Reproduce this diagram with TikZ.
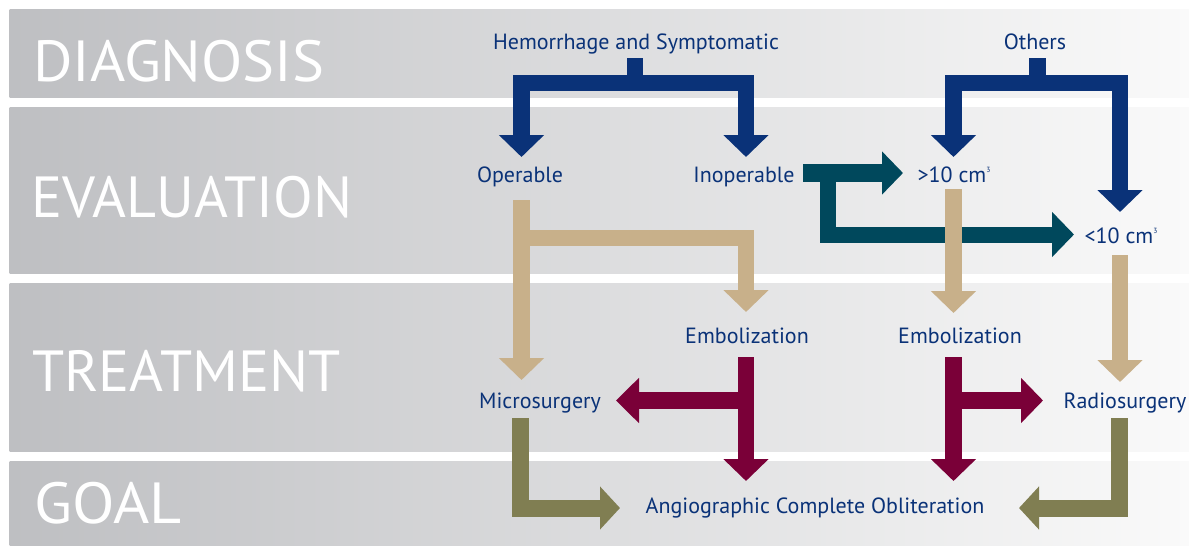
\documentclass[tikz,border=0pt]{standalone}
\usepackage{fontspec}
\setmainfont{PT Sans}
\usetikzlibrary{arrows.meta}
\definecolor{navy}{RGB}{10,50,120}
\definecolor{tealc}{RGB}{0,72,92}
\definecolor{tanc}{RGB}{200,176,138}
\definecolor{maroonc}{RGB}{122,0,56}
\definecolor{olivec}{RGB}{128,126,82}
\definecolor{bandL}{RGB}{190,191,194}
\definecolor{bandR}{RGB}{250,250,250}
\newcommand{\cubed}{\raisebox{0.85ex}{\fontsize{7.5}{7.5}\selectfont 3}}
\tikzset{
  band/.style={left color=bandL, right color=bandR, draw=none},
  stage/.style={anchor=base west, inner sep=0pt, text=white, font=\fontsize{58}{58}\selectfont},
  lbl/.style={anchor=base, inner sep=0pt, text=navy, font=\fontsize{22}{24}\selectfont},
  blockarr/.style={line width=16.5pt, line join=miter, line cap=butt, -{Triangle[width=44pt,length=22pt]}},
  bluearr/.style={blockarr, draw=navy},
  tealarr/.style={blockarr, draw=tealc},
  tanarr/.style={blockarr, draw=tanc},
  mararr/.style={blockarr, draw=maroonc},
  olivearr/.style={blockarr, draw=olivec, -{Triangle[width=42pt,length=20pt]}}
}
\begin{document}
\begin{tikzpicture}[x=1pt,y=-1pt]
\useasboundingbox (0,0) rectangle (1189,546);
% bands
\shade[band] (9.6,9) rectangle (1189,97);
\shade[band] (9.6,107) rectangle (1189,273);
\shade[band] (9.6,283) rectangle (1189,451);
\shade[band] (9.6,461) rectangle (1189,546);
% stage labels
\node[stage] (sdiag) at (33,81) {\scalebox{1.04}[1]{DIAGNOSIS}};
\node[stage] (seval) at (31,217) {EVALUATION};
\node[stage] (streat) at (32,391) {TREATMENT};
\node[stage] (sgoal) at (34,523) {\scalebox{1.07}[1]{GOAL}};
% text nodes
\node[lbl] (hem) at (636,49) {Hemorrhage and Symptomatic};
\node[lbl] (oth) at (1035,49) {Others};
\node[lbl] (op) at (520,182) {Operable};
\node[lbl] (inop) at (744,182) {Inoperable};
\node[lbl] (gt) at (954,182) {>10 cm\cubed};
\node[lbl] (lt) at (1121,243) {<10 cm\cubed};
\node[lbl] (emb1) at (747,343) {Embolization};
\node[lbl] (emb2) at (960,343) {Embolization};
\node[lbl] (micro) at (540,408) {Microsurgery};
\node[lbl] (radio) at (1125,408) {Radiosurgery};
\node[lbl] (aco) at (815,513) {Angiographic Complete Obliteration};
% coordinates
\coordinate (hemS) at (635,58);
\coordinate (opN) at (521.5,157);
\coordinate (inopN) at (746,157);
\coordinate (othS) at (1037.5,58);
\coordinate (gtN) at (953.5,157);
\coordinate (ltN) at (1120,212);
\coordinate (inopE) at (803,173);
\coordinate (gtW) at (903,173);
\coordinate (tealV) at (827.5,164);
\coordinate (ltW) at (1074,234.5);
\coordinate (opS) at (521.5,200);
\coordinate (microN) at (521.5,380);
\coordinate (opBar) at (521.5,238);
\coordinate (emb1N) at (746,312);
\coordinate (gtS) at (953.5,189);
\coordinate (emb2N) at (953.5,313);
\coordinate (ltS) at (1120,255);
\coordinate (radioN) at (1120,382);
\coordinate (emb1S) at (746,357);
\coordinate (emb2S) at (953.5,357);
\coordinate (acoN1) at (746,481);
\coordinate (acoN2) at (953.5,481);
\coordinate (emb1J) at (746,400.5);
\coordinate (emb2J) at (953.5,400.5);
\coordinate (microE) at (616,400.5);
\coordinate (radioW) at (1043,400.5);
\coordinate (microS) at (520,418);
\coordinate (acoW) at (620,508);
\coordinate (radioS) at (1119,418);
\coordinate (acoE) at (1019,508);
% blue
\draw[bluearr] (hemS) |- (opN |- 0,83) -- (opN);
\draw[bluearr] (hemS) |- (inopN |- 0,83) -- (inopN);
\draw[bluearr] (othS) |- (gtN |- 0,83) -- (gtN);
\draw[bluearr] (othS) |- (ltN |- 0,83) -- (ltN);
% teal
\draw[tealarr, line width=17.5pt, -{Triangle[width=42pt,length=21pt]}] (inopE) -- (gtW);
\draw[tealarr, line width=16pt] (tealV) |- (ltW);
% tan
\draw[tanarr] (opS) -- (microN);
\draw[tanarr] (opBar) -| (emb1N);
\draw[tanarr] (gtS) -- (emb2N);
\draw[tanarr] (ltS) -- (radioN);
% maroon
\draw[mararr] (emb1S) -- (acoN1);
\draw[mararr, -{Triangle[width=44pt,length=23pt]}] (emb1J) -- (microE);
\draw[mararr] (emb2S) -- (acoN2);
\draw[mararr] (emb2J) -- (radioW);
% olive
\draw[olivearr, line width=17pt] (microS) |- (acoW);
\draw[olivearr, line width=17pt] (radioS) |- (acoE);
\end{tikzpicture}
\end{document}
